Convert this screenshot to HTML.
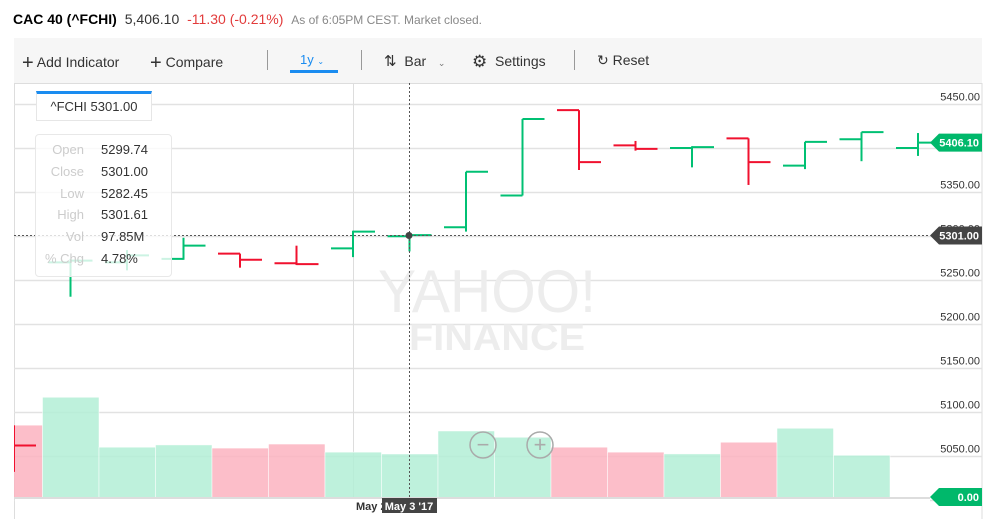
<!DOCTYPE html>
<html><head><meta charset="utf-8"><style>
body{margin:0;width:987px;height:519px;overflow:hidden;background:#fff;font-family:"Liberation Sans",sans-serif;position:relative}
.abs{position:absolute;white-space:nowrap}
.tb{font-size:14px;color:#333;top:52px}
</style></head><body>
<div class="abs" style="left:13px;top:11px;font-size:14px">
<b style="color:#000">CAC 40 (^FCHI)</b>
<span style="color:#333;margin-left:4px">5,406.10</span>
<span style="color:#e23b3b;margin-left:4px">-11.30 (-0.21%)</span>
<span style="color:#888;font-size:12px;margin-left:4px">As of 6:05PM CEST. Market closed.</span>
</div>
<div class="abs" style="left:14px;top:38px;width:968px;height:45px;background:#f6f6f6;border-bottom:1px solid #ddd"></div>
<div class="abs tb" style="left:22px"><span style="font-size:20px;vertical-align:-2px">+</span> Add Indicator</div>
<div class="abs tb" style="left:150px"><span style="font-size:20px;vertical-align:-2px">+</span> Compare</div>
<div class="abs" style="left:267px;top:50px;width:1px;height:20px;background:#999"></div>
<div class="abs tb" style="left:300px;color:#1a8cf0;font-size:13px">1y <span style="font-size:8px">&#8964;</span></div>
<div class="abs" style="left:290px;top:70px;width:48px;height:3px;background:#1a8cf0"></div>
<div class="abs" style="left:361px;top:50px;width:1px;height:20px;background:#999"></div>
<div class="abs tb" style="left:384px"><span style="font-size:15px">&#8645;</span>&nbsp; Bar &nbsp;&nbsp;<span style="font-size:9px;color:#777">&#8964;</span></div>
<div class="abs tb" style="left:472px"><span style="font-size:17px;vertical-align:-1px">&#9881;</span>&nbsp; Settings</div>
<div class="abs" style="left:574px;top:50px;width:1px;height:20px;background:#999"></div>
<div class="abs tb" style="left:597px"><span style="font-size:14px">&#8635;</span> Reset</div>

<svg class="abs" style="left:0;top:0" width="987" height="519" id="chart">
<defs><clipPath id="plotclip"><rect x="14" y="84" width="968" height="435"/></clipPath></defs>
<g id="grid"></g>
<text x="487" y="312" text-anchor="middle" font-size="60" fill="#ededed" font-family="Liberation Sans" textLength="218" lengthAdjust="spacingAndGlyphs">YAHOO!</text>
<text x="497" y="350" text-anchor="middle" font-size="37" font-weight="bold" fill="#ededed" font-family="Liberation Sans" textLength="176" lengthAdjust="spacingAndGlyphs">FINANCE</text>
<g id="vol" clip-path="url(#plotclip)"></g>
<g id="ohlc" clip-path="url(#plotclip)"></g>
<g id="over"></g>
</svg>

<div class="abs" style="left:36px;top:91px;width:116px;height:30px;border:1px solid #e6e6e6;border-top:3px solid #1a8cf0;background:#fff;font-size:13px;color:#333;text-align:center;line-height:26px;box-sizing:border-box">^FCHI 5301.00</div>
<div class="abs" style="left:35px;top:134px;width:137px;height:143px;border:1px solid #e8e8e8;border-radius:4px;background:rgba(255,255,255,0.8);font-size:13px;line-height:21.8px;padding-top:4px;box-sizing:border-box">
<div style="display:flex"><span style="width:48px;text-align:right;color:#ccc">Open</span><span style="margin-left:17px;color:#333">5299.74</span></div>
<div style="display:flex"><span style="width:48px;text-align:right;color:#ccc">Close</span><span style="margin-left:17px;color:#333">5301.00</span></div>
<div style="display:flex"><span style="width:48px;text-align:right;color:#ccc">Low</span><span style="margin-left:17px;color:#333">5282.45</span></div>
<div style="display:flex"><span style="width:48px;text-align:right;color:#ccc">High</span><span style="margin-left:17px;color:#333">5301.61</span></div>
<div style="display:flex"><span style="width:48px;text-align:right;color:#ccc">Vol</span><span style="margin-left:17px;color:#333">97.85M</span></div>
<div style="display:flex"><span style="width:48px;text-align:right;color:#ccc">% Chg</span><span style="margin-left:17px;color:#333">4.78%</span></div>
</div>

<script>
const opens  = [5085, 5270, 5270, 5274, 5280, 5269, 5286, 5299.74, 5310, 5346, 5443, 5403, 5400, 5411, 5380, 5410, 5400];
const highs  = [5085, 5274, 5284, 5298, 5280, 5289, 5306, 5301.61, 5373, 5433, 5443, 5408, 5402, 5411, 5407, 5418, 5417];
const lows   = [5032, 5231, 5261, 5273, 5264, 5267, 5276, 5282.45, 5305, 5346, 5375, 5397, 5378, 5358, 5376, 5385, 5391];
const closes = [5062, 5272, 5278, 5289, 5273, 5268, 5305, 5301, 5373, 5433, 5384, 5399, 5401, 5384, 5407, 5418, 5406.1];
const volumes = [162, 224, 113, 118, 111, 120, 102, 97.85, 149, 135, 113, 102, 98, 124, 155, 95];
const volUp = [0, 1, 1, 1, 0, 0, 1, 1, 1, 1, 0, 0, 1, 0, 1, 1];
const priceTicks = [5450, 5400, 5350, 5300, 5250, 5200, 5150, 5100, 5050, 5000];

const NS = "http://www.w3.org/2000/svg";
const yP = p => 104 + (5450 - p) * 44 / 50;
const xB = i => 14 + i * 56.5;
const yV = v => 498 - v * 44 / 97.85;
function mk(parent, tag, attrs) {
  const e = document.createElementNS(NS, tag);
  for (const k in attrs) e.setAttribute(k, attrs[k]);
  document.getElementById(parent).appendChild(e);
  return e;
}
let f = mk('grid','rect',{x:14.5,y:83.5,width:967.5,height:436,fill:'none',stroke:'#ddd'});


priceTicks.forEach(p => {
  const y = Math.round(yP(p)) + 0.5;
  const l = mk('grid','line',{x1:14,x2:982,y1:y,y2:y,stroke:'#e2e2e2','stroke-width':1.5});
  
  
  const t = mk('grid','text',{x:980,y:y-4,'text-anchor':'end','font-size':11,fill:'#333'});
  t.textContent = p.toFixed(2);
  
  
});
let vg = mk('grid','line',{x1:353.5,x2:353.5,y1:83,y2:519,stroke:'#ddd'});


volumes.forEach((v,i) => {
  const r = mk('vol','rect',{x:xB(i)-28,y:yV(v),width:56.5,height:498-yV(v),fill:volUp[i]?'#b3eed6':'#fcb3bf','fill-opacity':0.85,stroke:'#fff','stroke-width':0.5});
  
  
});
opens.forEach((o,i) => {
  const c = closes[i], x = xB(i), col = c >= o ? '#00c073' : '#f0112f';
  const g = mk('ohlc','g',{stroke:col,'stroke-width':2,fill:'none'});
  
  
  [['line',{x1:x,x2:x,y1:yP(highs[i]),y2:yP(lows[i])}],['line',{x1:x-22,x2:x,y1:yP(o),y2:yP(o)}],['line',{x1:x,x2:x+22,y1:yP(c),y2:yP(c)}]].forEach(([t,a])=>{
    const e = document.createElementNS(NS,t); for(const k in a) e.setAttribute(k,a[k]); g.appendChild(e);
  });
});
const cy = Math.round(yP(5301)) + 0.5;
let ch = mk('over','line',{x1:14,x2:930,y1:cy,y2:cy,stroke:'#555','stroke-dasharray':'2,2'});


let cv = mk('over','line',{x1:409.5,x2:409.5,y1:83,y2:519,stroke:'#555','stroke-dasharray':'2,2'});


let cd = mk('over','circle',{cx:409,cy:cy,r:3.5,fill:'#444'});


function tag(y, col, txt, name){
  const p = mk('over','path',{d:`M930 ${y} L939 ${y-9} L982 ${y-9} L982 ${y+9} L939 ${y+9} Z`,fill:col});
  
  
  const t = mk('over','text',{x:979,y:y+4,'text-anchor':'end','font-size':11,'font-weight':'bold',fill:'#fff'});
  t.textContent = txt;
  
  
}
tag(yP(5406.1),'#00b86b','5406.10','last-price-tag');
tag(cy,'#444','5301.00','crosshair-price-tag');
tag(497,'#00b86b','0.00','volume-tag');
let xa = mk('over','rect',{x:15,y:499,width:915,height:20,fill:'#fff'});


let bl = mk('over','line',{x1:14,x2:930,y1:498,y2:498,stroke:'#ddd','stroke-width':2});


let xl = mk('over','text',{x:356,y:510,'font-size':11,'font-weight':'bold',fill:'#333'});
xl.textContent = 'May 2';


let xb = mk('over','rect',{x:382,y:498,width:55,height:15,fill:'#444'});


let xt = mk('over','text',{x:409,y:510,'text-anchor':'middle','font-size':11,'font-weight':'bold',fill:'#fff'});
xt.textContent = "May 3 '17";


[[483,'−','zoom-out-button'],[540,'+','zoom-in-button']].forEach(([x,s,n])=>{
  const c = mk('over','circle',{cx:x,cy:445,r:13,fill:'none',stroke:'#aaa','stroke-width':1.5});
  
  
  const t = mk('over','text',{x:x,y:452,'text-anchor':'middle','font-size':22,fill:'#aaa'});
  t.textContent = s;
  
  
});
</script>
</body></html>
